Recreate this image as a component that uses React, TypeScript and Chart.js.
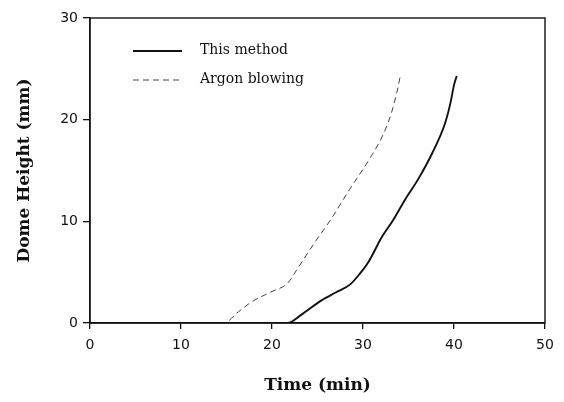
import React, { useEffect, useRef } from "react";
import { Chart, registerables } from "chart.js";
Chart.register(...registerables);

const methodTime = [0, 21.7, 23.2, 25.4, 27.0, 28.6, 29.7, 30.6, 32.1, 33.3, 34.6, 36.1, 37.6, 39.0, 39.6, 40.0, 40.3];
const methodHeight = [0, 0, 0.8, 2.2, 3.0, 3.8, 4.9, 6.0, 8.5, 10.1, 12.1, 14.2, 16.7, 19.6, 21.6, 23.4, 24.3];
const argonTime = [0, 14.7, 16.3, 17.8, 20.0, 21.7, 22.7, 24.6, 26.4, 28.5, 30.9, 32.3, 33.1, 33.7, 34.1];
const argonHeight = [0, 0, 1.1, 2.1, 3.1, 3.9, 5.2, 7.8, 10.1, 13.1, 16.4, 18.7, 20.6, 22.6, 24.3];

const seriesLabels = ["This method", "Argon blowing"];
const xTicks = [0, 10, 20, 30, 40, 50];
const yTicks = [0, 10, 20, 30];

const toPoints = (xs: number[], ys: number[]) => xs.map((x, i) => ({ x, y: ys[i] }));

const framePlugin = {
  id: "frameLegend",
  afterDraw(chart: any) {
    const { ctx, chartArea } = chart;
    const { left, top, right, bottom } = chartArea;
    ctx.save();
    ctx.strokeStyle = "#111";
    ctx.lineWidth = 1.4;
    ctx.strokeRect(left, top, right - left, bottom - top);
    const ds = chart.data.datasets;
    const rows = [top + 33, top + 62];
    ds.forEach((d: any, i: number) => {
      const y = rows[i];
      ctx.beginPath();
      ctx.strokeStyle = d.borderColor;
      ctx.lineWidth = d.borderWidth;
      ctx.setLineDash(d.borderDash || []);
      ctx.moveTo(left + 43, y);
      ctx.lineTo(left + 92, y);
      ctx.stroke();
      ctx.setLineDash([]);
      ctx.fillStyle = "#111";
      ctx.font = "14px 'DejaVu Serif'";
      ctx.textBaseline = "middle";
      ctx.textAlign = "left";
      ctx.fillText(d.label, left + 110, y - 1);
    });
    ctx.restore();
  },
};

export default function App() {
  const ref = useRef<HTMLCanvasElement>(null);
  useEffect(() => {
    if (!ref.current) return;
    const chart = new Chart(ref.current, {
      type: "scatter",
      data: {
        datasets: [
          {
            label: seriesLabels[0],
            data: toPoints(methodTime, methodHeight),
            showLine: true,
            borderColor: "#111",
            borderWidth: 1.9,
            pointRadius: 0,
            cubicInterpolationMode: "monotone",
          },
          {
            label: seriesLabels[1],
            data: toPoints(argonTime, argonHeight),
            showLine: true,
            borderColor: "#444",
            borderWidth: 1,
            borderDash: [6, 4],
            pointRadius: 0,
            cubicInterpolationMode: "monotone",
          },
        ],
      },
      options: {
        responsive: false,
        animation: false,
        layout: { padding: { left: 0, top: 18, right: 19, bottom: 0 } },
        plugins: { legend: { display: false }, tooltip: { enabled: false } },
        scales: {
          x: {
            type: "linear",
            min: 0,
            max: 50,
            afterBuildTicks: (s: any) => { s.ticks = xTicks.map((v) => ({ value: v })); },
            afterFit: (s: any) => { s.height = 79; },
            grid: { drawOnChartArea: false, drawTicks: true, tickLength: 6, color: "#111", lineWidth: 1.3 },
            border: { display: true, color: "#111", width: 1.4 },
            ticks: { color: "#111", font: { family: "DejaVu Sans", size: 14 }, padding: 8 },
            title: {
              display: true,
              text: "Time (min)",
              color: "#111",
              font: { family: "DejaVu Serif", size: 17, weight: "bold" },
              padding: { top: 0, bottom: 6 },
            },
          },
          y: {
            type: "linear",
            min: 0,
            max: 30,
            afterBuildTicks: (s: any) => { s.ticks = yTicks.map((v) => ({ value: v })); },
            afterFit: (s: any) => { s.width = 90; },
            grid: { drawOnChartArea: false, drawTicks: true, tickLength: 7, color: "#111", lineWidth: 1.3 },
            border: { display: true, color: "#111", width: 1.4 },
            ticks: { color: "#111", font: { family: "DejaVu Sans", size: 14 }, padding: 5 },
            title: {
              display: true,
              text: "Dome Height (mm)",
              color: "#111",
              font: { family: "DejaVu Serif", size: 17, weight: "bold" },
              padding: { top: 14, bottom: 0 },
            },
          },
        },
      },
      plugins: [framePlugin],
    });
    return () => chart.destroy();
  }, []);
  return (
    <div style={{ position: "fixed", left: 0, top: 0, width: 564, height: 402, background: "#fff" }}>
      <canvas ref={ref} width={564} height={402} />
    </div>
  );
}
